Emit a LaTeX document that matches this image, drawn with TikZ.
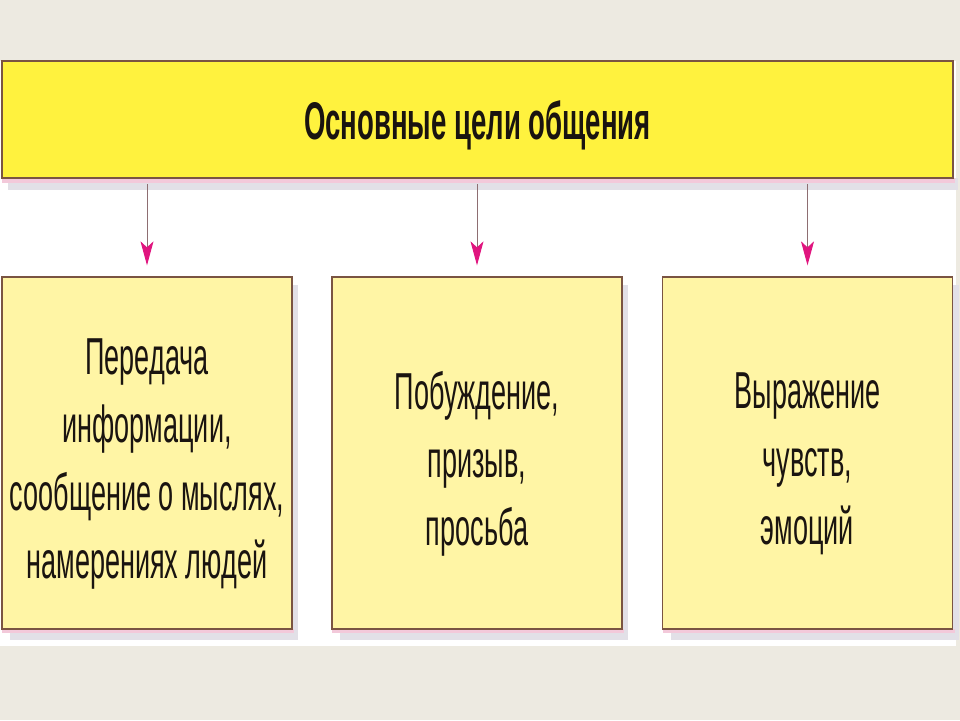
\documentclass[tikz,border=0pt]{standalone}
\usepackage{fontspec}
\setmainfont[FakeStretch=0.52]{Liberation Sans}
\usetikzlibrary{arrows.meta,calc}
\definecolor{bgbeige}{HTML}{EDEAE1}
\definecolor{topfill}{HTML}{FFF23E}
\definecolor{boxfill}{HTML}{FFF5A5}
\definecolor{boxedge}{HTML}{7A5442}
\definecolor{shadowgray}{HTML}{E2E0E7}
\definecolor{shadowpink}{HTML}{F3C9DA}
\definecolor{arrowhead}{HTML}{E0157F}
\definecolor{arrowshaft}{HTML}{8E6E72}
\definecolor{txt}{HTML}{1A1410}
\tikzset{
  topbox/.style={draw=boxedge, line width=1.5pt, fill=topfill, minimum width=951pt, minimum height=117pt, inner sep=0pt},
  titletext/.style={text=txt, font=\fontsize{53}{68}\selectfont\bfseries, inner sep=0pt},
  goalbox/.style={draw=boxedge, line width=1.3pt, fill=boxfill, minimum width=290pt, minimum height=352pt, inner sep=0pt},
  goaltext/.style={align=center, text=txt, font=\fontsize{52}{68}\selectfont, inner sep=0pt},
  shade/.style={fill=shadowgray, draw=none},
  pinkshade/.style={fill=shadowpink, draw=none},
  goalarrow/.style={draw=arrowshaft, line width=1pt, -{Stealth[length=24pt,width=13pt,inset=6pt,color=arrowhead]}, shorten <=5pt, shorten >=11pt}
}
\begin{document}
\begin{tikzpicture}[x=1pt,y=-1pt]
\useasboundingbox (0,0) rectangle (960,720);
\fill[bgbeige] (0,0) rectangle (960,720);
\fill[white] (0,61) rectangle (956,646);
% shadows
\fill[shade] (8,178) rectangle (958,190);
\fill[pinkshade] (2,178) rectangle (955,183);
\foreach \x in {2,332,663}{
  \fill[shade] (\x+8,629) rectangle (\x+296,640);
  \fill[shade] (\x+290,285) rectangle (\x+296,640);
  \fill[pinkshade] (\x,629) rectangle (\x+292,633);
}
\node[topbox] (top) at (477.5,119.5) {};
\node[titletext] (title) at ($(top.center)+(0,6)$) {Основные цели общения};
\node[goalbox] (l) at (147,453) {};
\node[goalbox] (m) at (477,453) {};
\node[goalbox] (r) at (807.5,453) {};
\node[goaltext] (lt) at ($(l.center)+(0,11)$) {Передача\\информации,\\сообщение о мыслях,\\намерениях людей};
\node[goaltext] (mt) at ($(m.center)+(0,11)$) {Побуждение,\\призыв,\\просьба};
\node[goaltext] (rt) at ($(r.center)+(0,11)$) {Выражение\\чувств,\\эмоций};
\draw[goalarrow] (top.south -| l.north) -- (l.north);
\draw[goalarrow] (top.south -| m.north) -- (m.north);
\draw[goalarrow] (top.south -| r.north) -- (r.north);
\end{tikzpicture}
\end{document}
